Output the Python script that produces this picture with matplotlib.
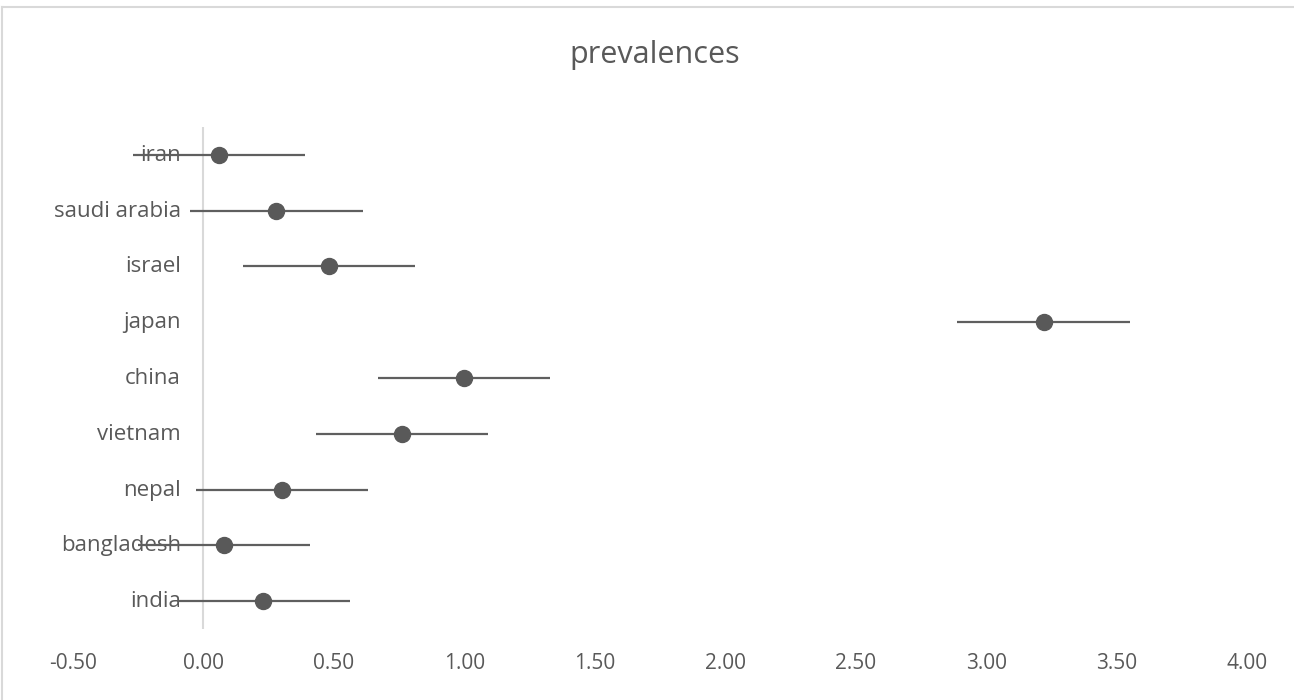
import numpy as np
import matplotlib.pyplot as plt
from matplotlib.lines import Line2D
from matplotlib.transforms import offset_copy

plt.rcParams['font.family'] = ['Open Sans', 'DejaVu Sans']

# countries from bottom to top
countries = ['india', 'bangladesh', 'nepal', 'vietnam', 'china',
             'japan', 'israel', 'saudi arabia', 'iran']
prevalence = [0.23, 0.08, 0.30, 0.76, 1.00, 3.22, 0.48, 0.28, 0.06]
error = [0.33, 0.33, 0.33, 0.33, 0.33, 0.33, 0.33, 0.33, 0.33]
xticks = [-0.5, 0.0, 0.5, 1.0, 1.5, 2.0, 2.5, 3.0, 3.5, 4.0]

grey = '#595959'
ypos = np.arange(1, len(countries) + 1)

fig = plt.figure(figsize=(12.94, 7.0), dpi=100)
ax = fig.add_axes([73 / 1294, 1 - 629 / 700, (1247 - 73) / 1294, (629 - 127) / 700])

# chart area border (only top and left visible)
W, H = 1294, 700
fig.add_artist(Line2D([2 / W, 1], [1 - 6.5 / H, 1 - 6.5 / H], transform=fig.transFigure,
                      color='#d9d9d9', linewidth=1.5))
fig.add_artist(Line2D([2 / W, 2 / W], [0, 1 - 6.5 / H], transform=fig.transFigure,
                      color='#d9d9d9', linewidth=1.5))

ax.axvline(0, color='#d9d9d9', linewidth=1.5, zorder=1)

# country names next to the vertical axis, x-height centred on the bar
label_tr = offset_copy(ax.transData, fig=fig, y=-4.3, units='points')
for y, name in zip(ypos, countries):
    ax.text(-0.086, y, name, ha='right', va='baseline', fontsize=16,
            color=grey, zorder=2, transform=label_tr)

ax.errorbar(prevalence, ypos, xerr=error, fmt='o', color=grey,
            ecolor='#5f5f5f', elinewidth=1.6, capsize=0, markersize=11.5,
            zorder=3)

ax.set_xlim(-0.5, 4.0)
ax.set_ylim(0.5, 9.5)
ax.set_xticks(xticks)
ax.set_xticklabels([f'{t:.2f}' for t in xticks])
ax.set_yticks([])
ax.tick_params(axis='x', length=0, pad=17, labelsize=15, labelcolor=grey)
for s in ax.spines.values():
    s.set_visible(False)

fig.text(655 / W, 1 - 54.5 / H, 'prevalences', ha='center', va='center',
         fontsize=22, color=grey)

fig.savefig('out.png', dpi=100)
